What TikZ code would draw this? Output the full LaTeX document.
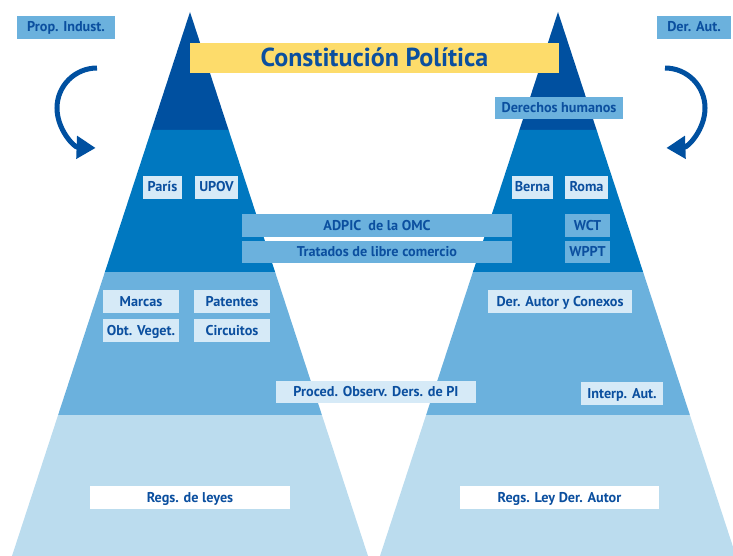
\documentclass[tikz,border=0pt]{standalone}
\usepackage{fontspec}
\setmainfont{PT Sans}
\usetikzlibrary{arrows.meta}
\definecolor{cdark}{HTML}{0050A0}
\definecolor{cmed}{HTML}{0078C0}
\definecolor{clight}{HTML}{6BB1DD}
\definecolor{cvlight}{HTML}{BBDCEE}
\definecolor{cboxpale}{HTML}{D6EAF7}
\definecolor{ctext}{HTML}{0B4F9F}
\definecolor{cyellow}{HTML}{FDDC6B}
\tikzset{
  lbl/.style={inner sep=0pt, font=\bfseries\fontsize{14.2}{16}\selectfont, text=ctext, minimum height=23pt, text height=10pt, text depth=1pt},
  palebox/.style={lbl, fill=cboxpale},
  midbox/.style={lbl, fill=clight},
  whitebox/.style={lbl, fill=white},
  bigarrow/.style={cdark, line width=5pt, -{Triangle[length=19pt,width=22pt]}}
}
\begin{document}
\begin{tikzpicture}[x=1pt,y=-1pt]
\useasboundingbox (0,0) rectangle (733,556);
% left pyramid
\fill[cdark] (190,12) -- (228.6,130) -- (151.4,130) -- cycle;
\fill[cmed] (151.4,130) -- (228.6,130) -- (275.1,272) -- (104.9,272) -- cycle;
\fill[clight] (104.9,272) -- (275.1,272) -- (321.9,415) -- (58.1,415) -- cycle;
\fill[cvlight] (58.1,415) -- (321.9,415) -- (368,556) -- (12,556) -- cycle;
% right pyramid
\fill[cdark] (558,12) -- (596.6,130) -- (519.4,130) -- cycle;
\fill[cmed] (519.4,130) -- (596.6,130) -- (643.1,272) -- (472.9,272) -- cycle;
\fill[clight] (472.9,272) -- (643.1,272) -- (689.9,415) -- (426.1,415) -- cycle;
\fill[cvlight] (426.1,415) -- (689.9,415) -- (736,556) -- (380,556) -- cycle;
% arrows
\draw[bigarrow] (97,68) arc[start angle=-90, end angle=-268, radius=40];
\draw[bigarrow] (665,68) arc[start angle=-90, end angle=88, radius=40];
% labels
\node[midbox, minimum width=98pt] (propind) at (66,27.5) {Prop. Indust.};
\node[midbox, minimum width=74pt] (deraut) at (694,27.5) {Der. Aut.};
\node[lbl, fill=cyellow, minimum width=369pt, minimum height=30pt, text height=18pt, text depth=1pt, font=\bfseries\fontsize{26}{30}\selectfont] (const) at (374.5,58) {Constitución Política};
\node[midbox, minimum width=128pt, minimum height=22pt] (dh) at (559,108) {Derechos humanos};
\node[palebox, minimum width=39pt] (paris) at (162.5,187.5) {París};
\node[palebox, minimum width=43pt] (upov) at (216.5,187.5) {UPOV};
\node[palebox, minimum width=41pt] (berna) at (532.5,187.5) {Berna};
\node[palebox, minimum width=43pt] (roma) at (586.5,187.5) {Roma};
\node[midbox, minimum width=270pt] (adpic) at (377,225.5) {ADPIC\ \ de la OMC};
\node[midbox, minimum width=270pt, minimum height=22pt] (tlc) at (377,252) {Tratados de libre comercio};
\node[midbox, minimum width=45pt] (wct) at (587.5,225.5) {WCT};
\node[midbox, minimum width=45pt, minimum height=22pt] (wppt) at (587.5,252) {WPPT};
\node[palebox, minimum width=76pt] (marcas) at (141,301.5) {Marcas};
\node[palebox, minimum width=76pt] (patentes) at (232,301.5) {Patentes};
\node[palebox, minimum width=76pt] (obt) at (141,330.5) {Obt. Veget.};
\node[palebox, minimum width=76pt] (circ) at (232,330.5) {Circuitos};
\node[palebox, minimum width=144pt] (dac) at (560,301.5) {Der. Autor y Conexos};
\node[palebox, minimum width=200pt, minimum height=22pt] (proced) at (376,392) {Proced. Observ. Ders. de PI};
\node[palebox, minimum width=82pt] (interp) at (622,393.5) {Interp. Aut.};
\node[whitebox, minimum width=200pt] (regs1) at (190,497.5) {Regs. de leyes};
\node[whitebox, minimum width=199pt] (regs2) at (559.5,497.5) {Regs. Ley Der. Autor};
\end{tikzpicture}
\end{document}
